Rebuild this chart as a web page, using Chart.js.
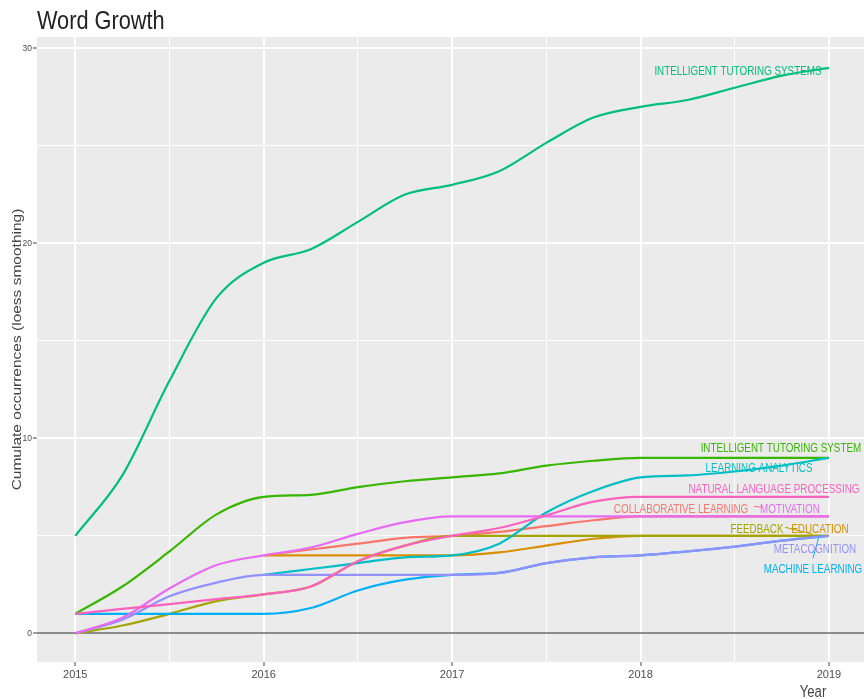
<!DOCTYPE html>
<html>
<head>
<meta charset="utf-8">
<script src="https://cdn.jsdelivr.net/npm/chart.js@4.4.1/dist/chart.umd.min.js"></script>
<style>
  html, body { margin: 0; padding: 0; background: #fff; }
  #wrap { width: 864px; height: 699px; }
</style>
</head>
<body>
<div id="wrap"><canvas id="wordChart" width="864" height="699"></canvas></div>
<script>
// x positions of the sampled curve points (years)
const years = [2015, 2015.25, 2015.5, 2015.75, 2016, 2016.25, 2016.5, 2016.75, 2017,
               2017.25, 2017.5, 2017.75, 2018, 2018.25, 2018.5, 2018.75, 2019];

const seriesNames = ['COLLABORATIVE LEARNING', 'EDUCATION', 'FEEDBACK', 'INTELLIGENT TUTORING SYSTEM',
  'INTELLIGENT TUTORING SYSTEMS', 'LEARNING ANALYTICS', 'MACHINE LEARNING', 'METACOGNITION',
  'MOTIVATION', 'NATURAL LANGUAGE PROCESSING'];

// smoothed cumulative occurrences
const collaborative = [null, null, null, null, 4.0, 4.3, 4.6, 4.9, 5.0, 5.2, 5.5, 5.8, 6.0, 6.0, 6.0, 6.0, 6.0];
const education     = [null, null, null, null, 4.0, 4.0, 4.0, 4.0, 4.0, 4.15, 4.5, 4.85, 5.0, 5.0, 5.0, 5.0, 5.0];
const feedback      = [0, 0.4, 1.0, 1.65, 2.0, 2.4, 3.7, 4.5, 5.0, 5.0, 5.0, 5.0, 5.0, 5.0, 5.0, 5.0, 5.0];
const itsSingular   = [1.0, 2.4, 4.2, 6.1, 7.0, 7.1, 7.5, 7.8, 8.0, 8.2, 8.6, 8.85, 9.0, 9.0, 9.0, 9.0, 9.0];
const itsPlural     = [5.0, 8.1, 12.95, 17.2, 19.0, 19.7, 21.1, 22.5, 23.0, 23.7, 25.15, 26.45, 27.0, 27.35, 27.98, 28.6, 29.0];
const analytics     = [null, null, null, null, 3.0, 3.3, 3.6, 3.9, 4.0, 4.6, 6.2, 7.3, 8.0, 8.1, 8.3, 8.6, 9.0];
const machine       = [1.0, 1.0, 1.0, 1.0, 1.0, 1.3, 2.2, 2.75, 3.0, 3.1, 3.6, 3.9, 4.0, 4.2, 4.45, 4.75, 5.0];
const metacognition = [0, 0.7, 1.9, 2.6, 3.0, 3.0, 3.0, 3.0, 3.0, 3.1, 3.6, 3.9, 4.0, 4.2, 4.45, 4.75, 5.0];
const motivation    = [0, 0.8, 2.3, 3.5, 4.0, 4.4, 5.1, 5.7, 6.0, 6.0, 6.0, 6.0, 6.0, 6.0, 6.0, 6.0, 6.0];
const nlp           = [1.0, 1.25, 1.5, 1.75, 2.0, 2.4, 3.7, 4.5, 5.0, 5.4, 6.05, 6.75, 7.0, 7.0, 7.0, 7.0, 7.0];

const seriesValues = [collaborative, education, feedback, itsSingular, itsPlural,
                      analytics, machine, metacognition, motivation, nlp];

const xTicks = [2015, 2015.5, 2016, 2016.5, 2017, 2017.5, 2018, 2018.5, 2019];
const yTicks = [0, 5, 10, 15, 20, 25, 30];

// ggplot hue palette, 10 groups
const colors = ['#F8766D', '#D89000', '#A3A500', '#39B600', '#00BF7D',
                '#00BFC4', '#00B0F6', '#9590FF', '#E76BF3', '#FF62BC'];

// repel label anchors (centre, data coordinates)
const labelPos = [[2018.215, 6.41], [2018.952, 5.38], [2018.618, 5.38], [2018.745, 9.54], [2018.517, 28.87],
                  [2018.629, 8.51], [2018.915, 3.33], [2018.926, 4.36], [2018.793, 6.41], [2018.708, 7.44]];
// short connector segments that show between labels
const segments = [
  { s: 0, from: [2018.602, 6.51], to: [2018.650, 6.46] },
  { s: 2, from: [2018.767, 5.44], to: [2018.915, 5.08] },
  { s: 6, from: [2018.915, 3.85], to: [2018.947, 4.97] }
];

const SANS = '"Liberation Sans", Arial, sans-serif';
const SQUEEZE = 0.82;   // the picture is horizontally condensed

function narrowText(ctx, text, x, y, size, align, baseline) {
  ctx.save();
  ctx.font = size + 'px ' + SANS;
  ctx.textAlign = align;
  ctx.textBaseline = baseline;
  ctx.scale(SQUEEZE, 1);
  ctx.fillText(text, x / SQUEEZE, y);
  ctx.restore();
}

const decor = {
  id: 'decor',
  beforeDraw(chart) {
    const { ctx, chartArea: a } = chart;
    ctx.save();
    ctx.fillStyle = '#ffffff';
    ctx.fillRect(0, 0, chart.width, chart.height);
    ctx.fillStyle = '#EBEBEB';
    ctx.fillRect(a.left, a.top, a.right - a.left, a.bottom - a.top);
    ctx.restore();
  },
  afterDatasetsDraw(chart) {
    const { ctx } = chart;
    const x = chart.scales.x, y = chart.scales.y;
    ctx.save();
    ctx.lineWidth = 1;
    segments.forEach(sg => {
      ctx.strokeStyle = colors[sg.s];
      ctx.beginPath();
      ctx.moveTo(x.getPixelForValue(sg.from[0]), y.getPixelForValue(sg.from[1]));
      ctx.lineTo(x.getPixelForValue(sg.to[0]), y.getPixelForValue(sg.to[1]));
      ctx.stroke();
    });
    seriesNames.forEach((name, i) => {
      ctx.fillStyle = colors[i];
      narrowText(ctx, name, x.getPixelForValue(labelPos[i][0]), y.getPixelForValue(labelPos[i][1]) + 1,
                 12, 'center', 'middle');
    });
    ctx.restore();
  },
  afterDraw(chart) {
    const { ctx, chartArea: a } = chart;
    ctx.save();
    ctx.fillStyle = '#222';
    narrowText(ctx, 'Word Growth', 37, 29, 26.5, 'left', 'alphabetic');

    ctx.fillStyle = '#444';
    narrowText(ctx, 'Year', 813, 697, 16, 'center', 'alphabetic');

    ctx.translate(17, (a.top + a.bottom) / 2);
    ctx.rotate(-Math.PI / 2);
    ctx.scale(1, SQUEEZE);
    ctx.font = '15.5px ' + SANS;
    ctx.textAlign = 'center';
    ctx.textBaseline = 'middle';
    ctx.fillText('Cumulate occurrences (loess smoothing)', 0, 0);
    ctx.restore();
  }
};

const datasets = seriesNames.map((name, i) => ({
  label: name,
  data: years.map((yr, k) => ({ x: yr, y: seriesValues[i][k] })).filter(p => p.y !== null),
  borderColor: colors[i],
  backgroundColor: colors[i],
  borderWidth: 2.2,
  pointRadius: 0,
  fill: false,
  cubicInterpolationMode: 'monotone',
  order: seriesNames.length - i
}));

new Chart(document.getElementById('wordChart'), {
  type: 'line',
  data: { datasets: datasets },
  plugins: [decor],
  options: {
    responsive: false,
    animation: false,
    layout: { padding: { top: 37, left: 0, right: 0, bottom: 0 } },
    plugins: { legend: { display: false }, tooltip: { enabled: false }, title: { display: false } },
    scales: {
      x: {
        type: 'linear',
        min: 2014.797,
        max: 2019.186,
        afterBuildTicks: s => { s.ticks = xTicks.map(v => ({ value: v })); },
        afterFit: s => { s.height = 37; },
        border: { display: false },
        grid: {
          color: '#ffffff',
          lineWidth: c => (Number.isInteger(c.tick.value) ? 2 : 1),
          tickColor: c => (Number.isInteger(c.tick.value) ? '#444' : 'rgba(0,0,0,0)'),
          tickLength: 4,
          tickWidth: 1
        },
        ticks: {
          autoSkip: false,
          maxRotation: 0,
          padding: 2,
          color: '#4D4D4D',
          font: { family: SANS, size: 11 },
          callback: v => (Number.isInteger(v) ? String(v) : '')
        }
      },
      y: {
        type: 'linear',
        min: -1.47,
        max: 30.58,
        afterBuildTicks: s => { s.ticks = yTicks.map(v => ({ value: v })); },
        afterFit: s => { s.width = 37; },
        border: { display: false },
        grid: {
          color: c => (c.tick.value === 0 ? '#8C8C8C' : '#ffffff'),
          lineWidth: c => (c.tick.value % 10 === 0 ? 2 : 1),
          tickColor: c => (c.tick.value % 10 === 0 ? '#444' : 'rgba(0,0,0,0)'),
          tickLength: 4,
          tickWidth: 1
        },
        ticks: {
          padding: 1,
          color: '#4D4D4D',
          font: { family: SANS, size: 8.5 },
          callback: v => (v % 10 === 0 ? String(v) : '')
        }
      }
    }
  }
});
</script>
</body>
</html>
